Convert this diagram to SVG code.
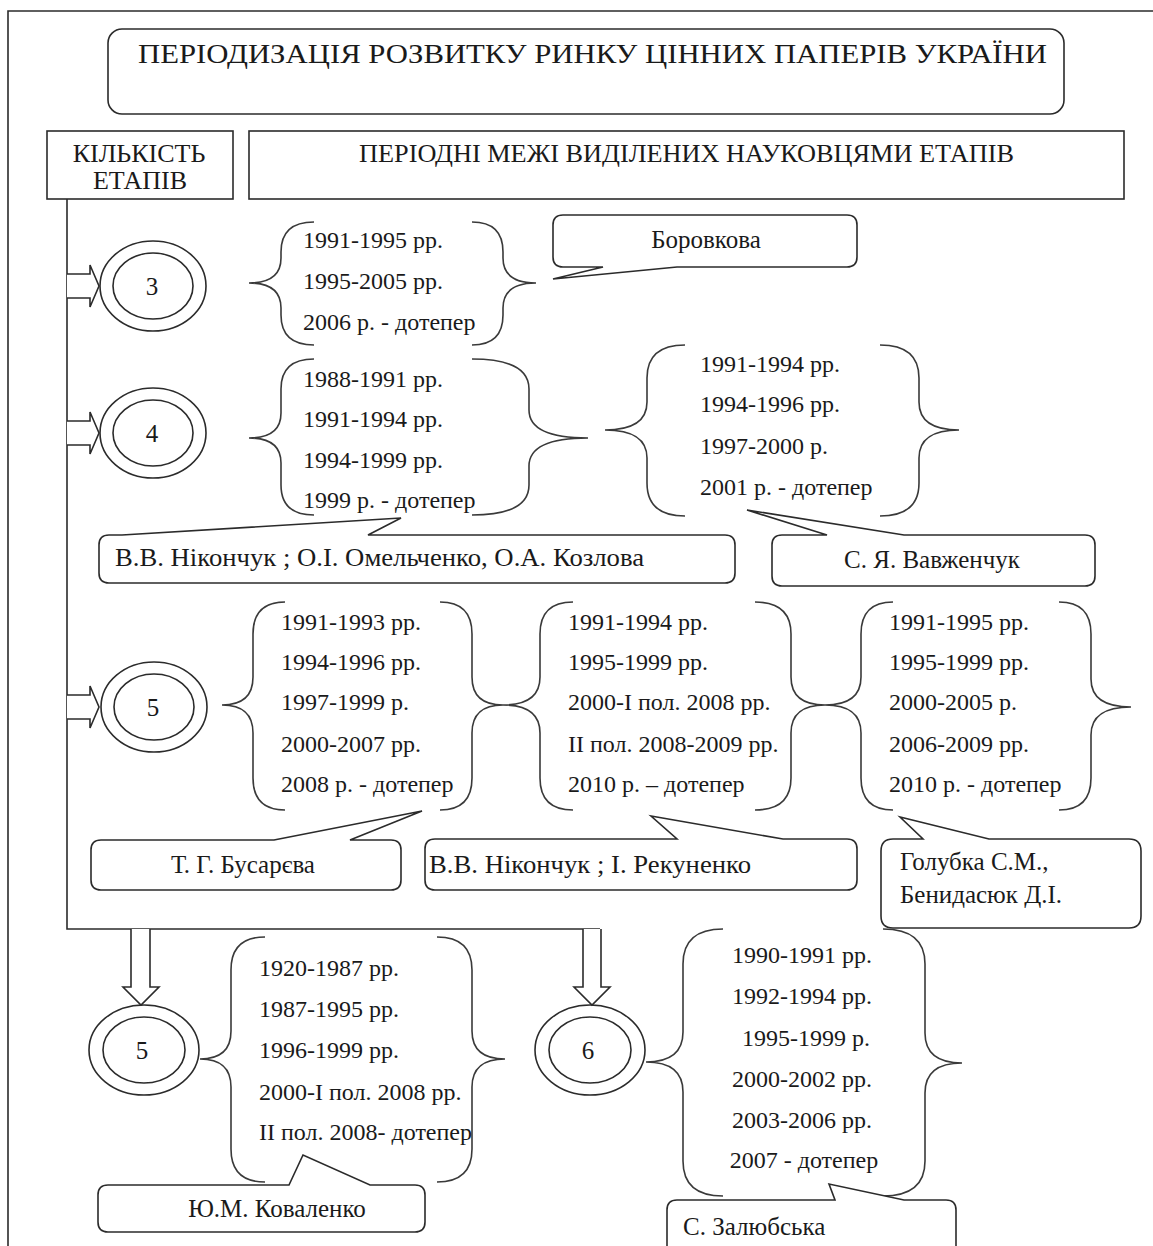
<svg xmlns="http://www.w3.org/2000/svg" width="1153" height="1246" viewBox="0 0 1153 1246">
  <style>
    .ln { fill: none; stroke: #2b2b2b; stroke-width: 1.6; }
    .box { fill: #ffffff; stroke: #2b2b2b; stroke-width: 1.6; }
    .brace { fill: none; stroke: #3a3a3a; stroke-width: 1.6; }
    .t { font-family: "Liberation Serif", "Times New Roman", serif; fill: #1a1a1a; }
    .ttl { font-size: 28px; }
    .hdr { font-size: 26px; }
    .d { font-size: 24px; }
    .n { font-size: 25px; }
    .num { font-size: 25px; text-anchor: middle; }
    .mid { text-anchor: middle; }
  </style>

  <rect width="1153" height="1246" fill="#ffffff"/>

  <!-- page frame -->
  <path class="ln" d="M8,1246 V11 H1153" stroke-width="2.2"/>

  <!-- headings -->
  <g id="title">
    <rect class="box" x="108" y="29" width="956" height="85" rx="14"/>
    <text class="t ttl" x="138" y="63" textLength="909" lengthAdjust="spacingAndGlyphs">ПЕРІОДИЗАЦІЯ РОЗВИТКУ РИНКУ ЦІННИХ ПАПЕРІВ УКРАЇНИ</text>
  </g>
  <g id="head-count">
    <rect class="box" x="47" y="131" width="186" height="68"/>
    <text class="t hdr mid" x="139" y="162">КІЛЬКІСТЬ</text>
    <text class="t hdr mid" x="140" y="189">ЕТАПІВ</text>
  </g>
  <g id="head-periods">
    <rect class="box" x="249" y="131" width="875" height="68"/>
    <text class="t hdr" x="359" y="162" textLength="655" lengthAdjust="spacingAndGlyphs">ПЕРІОДНІ МЕЖІ ВИДІЛЕНИХ НАУКОВЦЯМИ ЕТАПІВ</text>
  </g>

  <!-- connectors: trunk line and block arrows -->
  <g id="connectors">
    <path class="ln" d="M67,199 V929 H600"/>
    <path class="box" d="M67,274 H90 V265 L99,286 L90,307 V298 H67"/>
    <path class="box" d="M67,421 H90 V412 L99,433 L90,454 V445 H67"/>
    <path class="box" d="M67,695 H90 V686 L99,707 L90,728 V719 H67"/>
    <path class="box" d="M131,929 V987 H123 L141,1005 L159,987 H150 V929"/>
    <path class="box" d="M583,929 V987 H574 L592,1005 L610,987 H601 V929"/>
  </g>

  <!-- stage counts -->
  <g id="count-3">
    <ellipse class="ln" cx="153" cy="286" rx="53" ry="45"/>
    <ellipse class="ln" cx="153" cy="286" rx="40" ry="33"/>
    <text class="t num" x="152" y="295">3</text>
  </g>
  <g id="count-4">
    <ellipse class="ln" cx="153" cy="433" rx="53" ry="45"/>
    <ellipse class="ln" cx="153" cy="433" rx="40" ry="33"/>
    <text class="t num" x="152" y="442">4</text>
  </g>
  <g id="count-5a">
    <ellipse class="ln" cx="154" cy="707" rx="53" ry="45"/>
    <ellipse class="ln" cx="154" cy="707" rx="40" ry="33"/>
    <text class="t num" x="153" y="716">5</text>
  </g>
  <g id="count-5b">
    <ellipse class="ln" cx="144" cy="1050" rx="55" ry="45"/>
    <ellipse class="ln" cx="144" cy="1050" rx="41" ry="33"/>
    <text class="t num" x="142" y="1059">5</text>
  </g>
  <g id="count-6">
    <ellipse class="ln" cx="590" cy="1050" rx="55" ry="45"/>
    <ellipse class="ln" cx="590" cy="1050" rx="41" ry="33"/>
    <text class="t num" x="588" y="1059">6</text>
  </g>

  <!-- three stages -->
  <g id="periods-3">
    <path class="brace" d="M314,222 Q281,222 281,252 L281,258 Q281,283 249,283 Q281,283 281,308 L281,315 Q281,345 314,345"/>
    <path class="brace" d="M472,222 Q503,222 503,252 L503,258 Q503,283 536,283 Q503,283 503,308 L503,315 Q503,345 472,345"/>
    <text class="t d" x="303" y="248">1991-1995 рр.</text>
    <text class="t d" x="303" y="289">1995-2005 рр.</text>
    <text class="t d" x="303" y="330">2006 р. - дотепер</text>
  </g>

  <!-- four stages, first view -->
  <g id="periods-4a">
    <path class="brace" d="M314,359 Q281,359 281,389 L281,413 Q281,438 249,438 Q281,438 281,463 L281,485 Q281,515 314,515"/>
    <path class="brace" d="M472,359 Q529,359 529,389 L529,410 Q529,438 588,438 Q529,438 529,466 L529,485 Q529,515 472,515"/>
    <text class="t d" x="303" y="387">1988-1991 рр.</text>
    <text class="t d" x="303" y="427">1991-1994 рр.</text>
    <text class="t d" x="303" y="468">1994-1999 рр.</text>
    <text class="t d" x="303" y="508">1999 р. - дотепер</text>
  </g>

  <!-- four stages, second view -->
  <g id="periods-4b">
    <path class="brace" d="M685,345 Q647,345 647,378 L647,402 Q647,430 605,430 Q647,430 647,458 L647,483 Q647,516 685,516"/>
    <path class="brace" d="M880,345 Q919,345 919,378 L919,402 Q919,430 959,430 Q919,430 919,458 L919,483 Q919,516 880,516"/>
    <text class="t d" x="700" y="372">1991-1994 рр.</text>
    <text class="t d" x="700" y="412">1994-1996 рр.</text>
    <text class="t d" x="700" y="454">1997-2000 р.</text>
    <text class="t d" x="700" y="495">2001 р. - дотепер</text>
  </g>

  <!-- five stages, three views -->
  <g id="periods-5a">
    <path class="brace" d="M285,602 Q253,602 253,634 L253,677 Q253,705 222,705 Q253,705 253,733 L253,778 Q253,810 285,810"/>
    <path class="brace" d="M440,602 Q472,602 472,634 L472,677 Q472,705 503,705 Q472,705 472,733 L472,778 Q472,810 440,810"/>
    <text class="t d" x="281" y="630">1991-1993 рр.</text>
    <text class="t d" x="281" y="670">1994-1996 рр.</text>
    <text class="t d" x="281" y="710">1997-1999 р.</text>
    <text class="t d" x="281" y="752">2000-2007 рр.</text>
    <text class="t d" x="281" y="792">2008 р. - дотепер</text>
  </g>
  <g id="periods-5b">
    <path class="brace" d="M573,602 Q540,602 540,634 L540,677 Q540,705 503,705 Q540,705 540,733 L540,778 Q540,810 573,810"/>
    <path class="brace" d="M755,602 Q791,602 791,634 L791,677 Q791,705 825,705 Q791,705 791,733 L791,778 Q791,810 755,810"/>
    <text class="t d" x="568" y="630">1991-1994 рр.</text>
    <text class="t d" x="568" y="670">1995-1999 рр.</text>
    <text class="t d" x="568" y="710">2000-I пол. 2008 рр.</text>
    <text class="t d" x="568" y="752">II пол. 2008-2009 рр.</text>
    <text class="t d" x="568" y="792">2010 р. – дотепер</text>
  </g>
  <g id="periods-5c">
    <path class="brace" d="M893,602 Q861,602 861,634 L861,677 Q861,705 825,705 Q861,705 861,733 L861,778 Q861,810 893,810"/>
    <path class="brace" d="M1059,602 Q1091,602 1091,634 L1091,679 Q1091,707 1131,707 Q1091,707 1091,735 L1091,778 Q1091,810 1059,810"/>
    <text class="t d" x="889" y="630">1991-1995 рр.</text>
    <text class="t d" x="889" y="670">1995-1999 рр.</text>
    <text class="t d" x="889" y="710">2000-2005 р.</text>
    <text class="t d" x="889" y="752">2006-2009 рр.</text>
    <text class="t d" x="889" y="792">2010 р. - дотепер</text>
  </g>

  <!-- five stages, long view -->
  <g id="periods-5d">
    <path class="brace" d="M265,937 Q231,937 231,970 L231,1031 Q231,1059 200,1059 Q231,1059 231,1087 L231,1149 Q231,1182 265,1182"/>
    <path class="brace" d="M437,937 Q472,937 472,970 L472,1031 Q472,1059 505,1059 Q472,1059 472,1087 L472,1149 Q472,1182 437,1182"/>
    <text class="t d" x="259" y="976">1920-1987 рр.</text>
    <text class="t d" x="259" y="1017">1987-1995 рр.</text>
    <text class="t d" x="259" y="1058">1996-1999 рр.</text>
    <text class="t d" x="259" y="1100">2000-I пол. 2008 рр.</text>
    <text class="t d" x="259" y="1140">II пол. 2008- дотепер</text>
  </g>

  <!-- six stages -->
  <g id="periods-6">
    <path class="brace" d="M723,929 Q683,929 683,964 L683,1032 Q683,1062 646,1062 Q683,1062 683,1092 L683,1161 Q683,1196 723,1196"/>
    <path class="brace" d="M883,929 Q925,929 925,964 L925,1033 Q925,1063 962,1063 Q925,1063 925,1093 L925,1161 Q925,1196 883,1196"/>
    <text class="t d mid" x="802" y="963">1990-1991 рр.</text>
    <text class="t d mid" x="802" y="1004">1992-1994 рр.</text>
    <text class="t d mid" x="806" y="1046">1995-1999 р.</text>
    <text class="t d mid" x="802" y="1087">2000-2002 рр.</text>
    <text class="t d mid" x="802" y="1128">2003-2006 рр.</text>
    <text class="t d mid" x="804" y="1168">2007 - дотепер</text>
  </g>

  <!-- author callouts -->
  <g id="author-borovkova">
    <path class="box" d="M563,215 H847 Q857,215 857,225 V257 Q857,267 847,267 H677 L553,279 L603,267 H563 Q553,267 553,257 V225 Q553,215 563,215 Z"/>
    <text class="t n mid" x="706" y="248">Боровкова</text>
  </g>
  <g id="author-nikonchuk-a">
    <path class="box" d="M109,535 H122 L401,518 L368,535 H725 Q735,535 735,545 V573 Q735,583 725,583 H109 Q99,583 99,573 V545 Q99,535 109,535 Z"/>
    <text class="t n" x="115" y="566" textLength="529" lengthAdjust="spacingAndGlyphs">В.В. Нікончук ; О.І. Омельченко, О.А. Козлова</text>
  </g>
  <g id="author-vavzhenchuk">
    <path class="box" d="M782,535 H827 L747,510 L904,535 H1085 Q1095,535 1095,545 V576 Q1095,586 1085,586 H782 Q772,586 772,576 V545 Q772,535 782,535 Z"/>
    <text class="t n mid" x="932" y="568">С. Я. Вавженчук</text>
  </g>
  <g id="author-busarieva">
    <path class="box" d="M101,840 H274 L422,811 L350,840 H391 Q401,840 401,850 V880 Q401,890 391,890 H101 Q91,890 91,880 V850 Q91,840 101,840 Z"/>
    <text class="t n mid" x="243" y="873">Т. Г. Бусарєва</text>
  </g>
  <g id="author-nikonchuk-b">
    <path class="box" d="M435,839 H677 L651,816 L783,839 H847 Q857,839 857,849 V880 Q857,890 847,890 H435 Q425,890 425,880 V849 Q425,839 435,839 Z"/>
    <text class="t n" x="429" y="873" textLength="322" lengthAdjust="spacingAndGlyphs">В.В. Нікончук ; І. Рекуненко</text>
  </g>
  <g id="author-holubka">
    <path class="box" d="M893,839 H923 L900,817 L989,839 H1129 Q1141,839 1141,851 V916 Q1141,928 1129,928 H893 Q881,928 881,916 V851 Q881,839 893,839 Z"/>
    <text class="t n" x="900" y="870">Голубка С.М.,</text>
    <text class="t n" x="900" y="903">Бенидасюк Д.І.</text>
  </g>
  <g id="author-kovalenko">
    <path class="box" d="M108,1185 H289 L303,1155 L370,1185 H415 Q425,1185 425,1195 V1222 Q425,1232 415,1232 H108 Q98,1232 98,1222 V1195 Q98,1185 108,1185 Z"/>
    <text class="t n mid" x="277" y="1217">Ю.М. Коваленко</text>
  </g>
  <g id="author-zaliubska">
    <path class="box" d="M677,1200 H835 L829,1184 L904,1200 H946 Q956,1200 956,1210 V1270 H667 V1210 Q667,1200 677,1200 Z"/>
    <text class="t n" x="683" y="1235">С. Залюбська</text>
  </g>
</svg>
